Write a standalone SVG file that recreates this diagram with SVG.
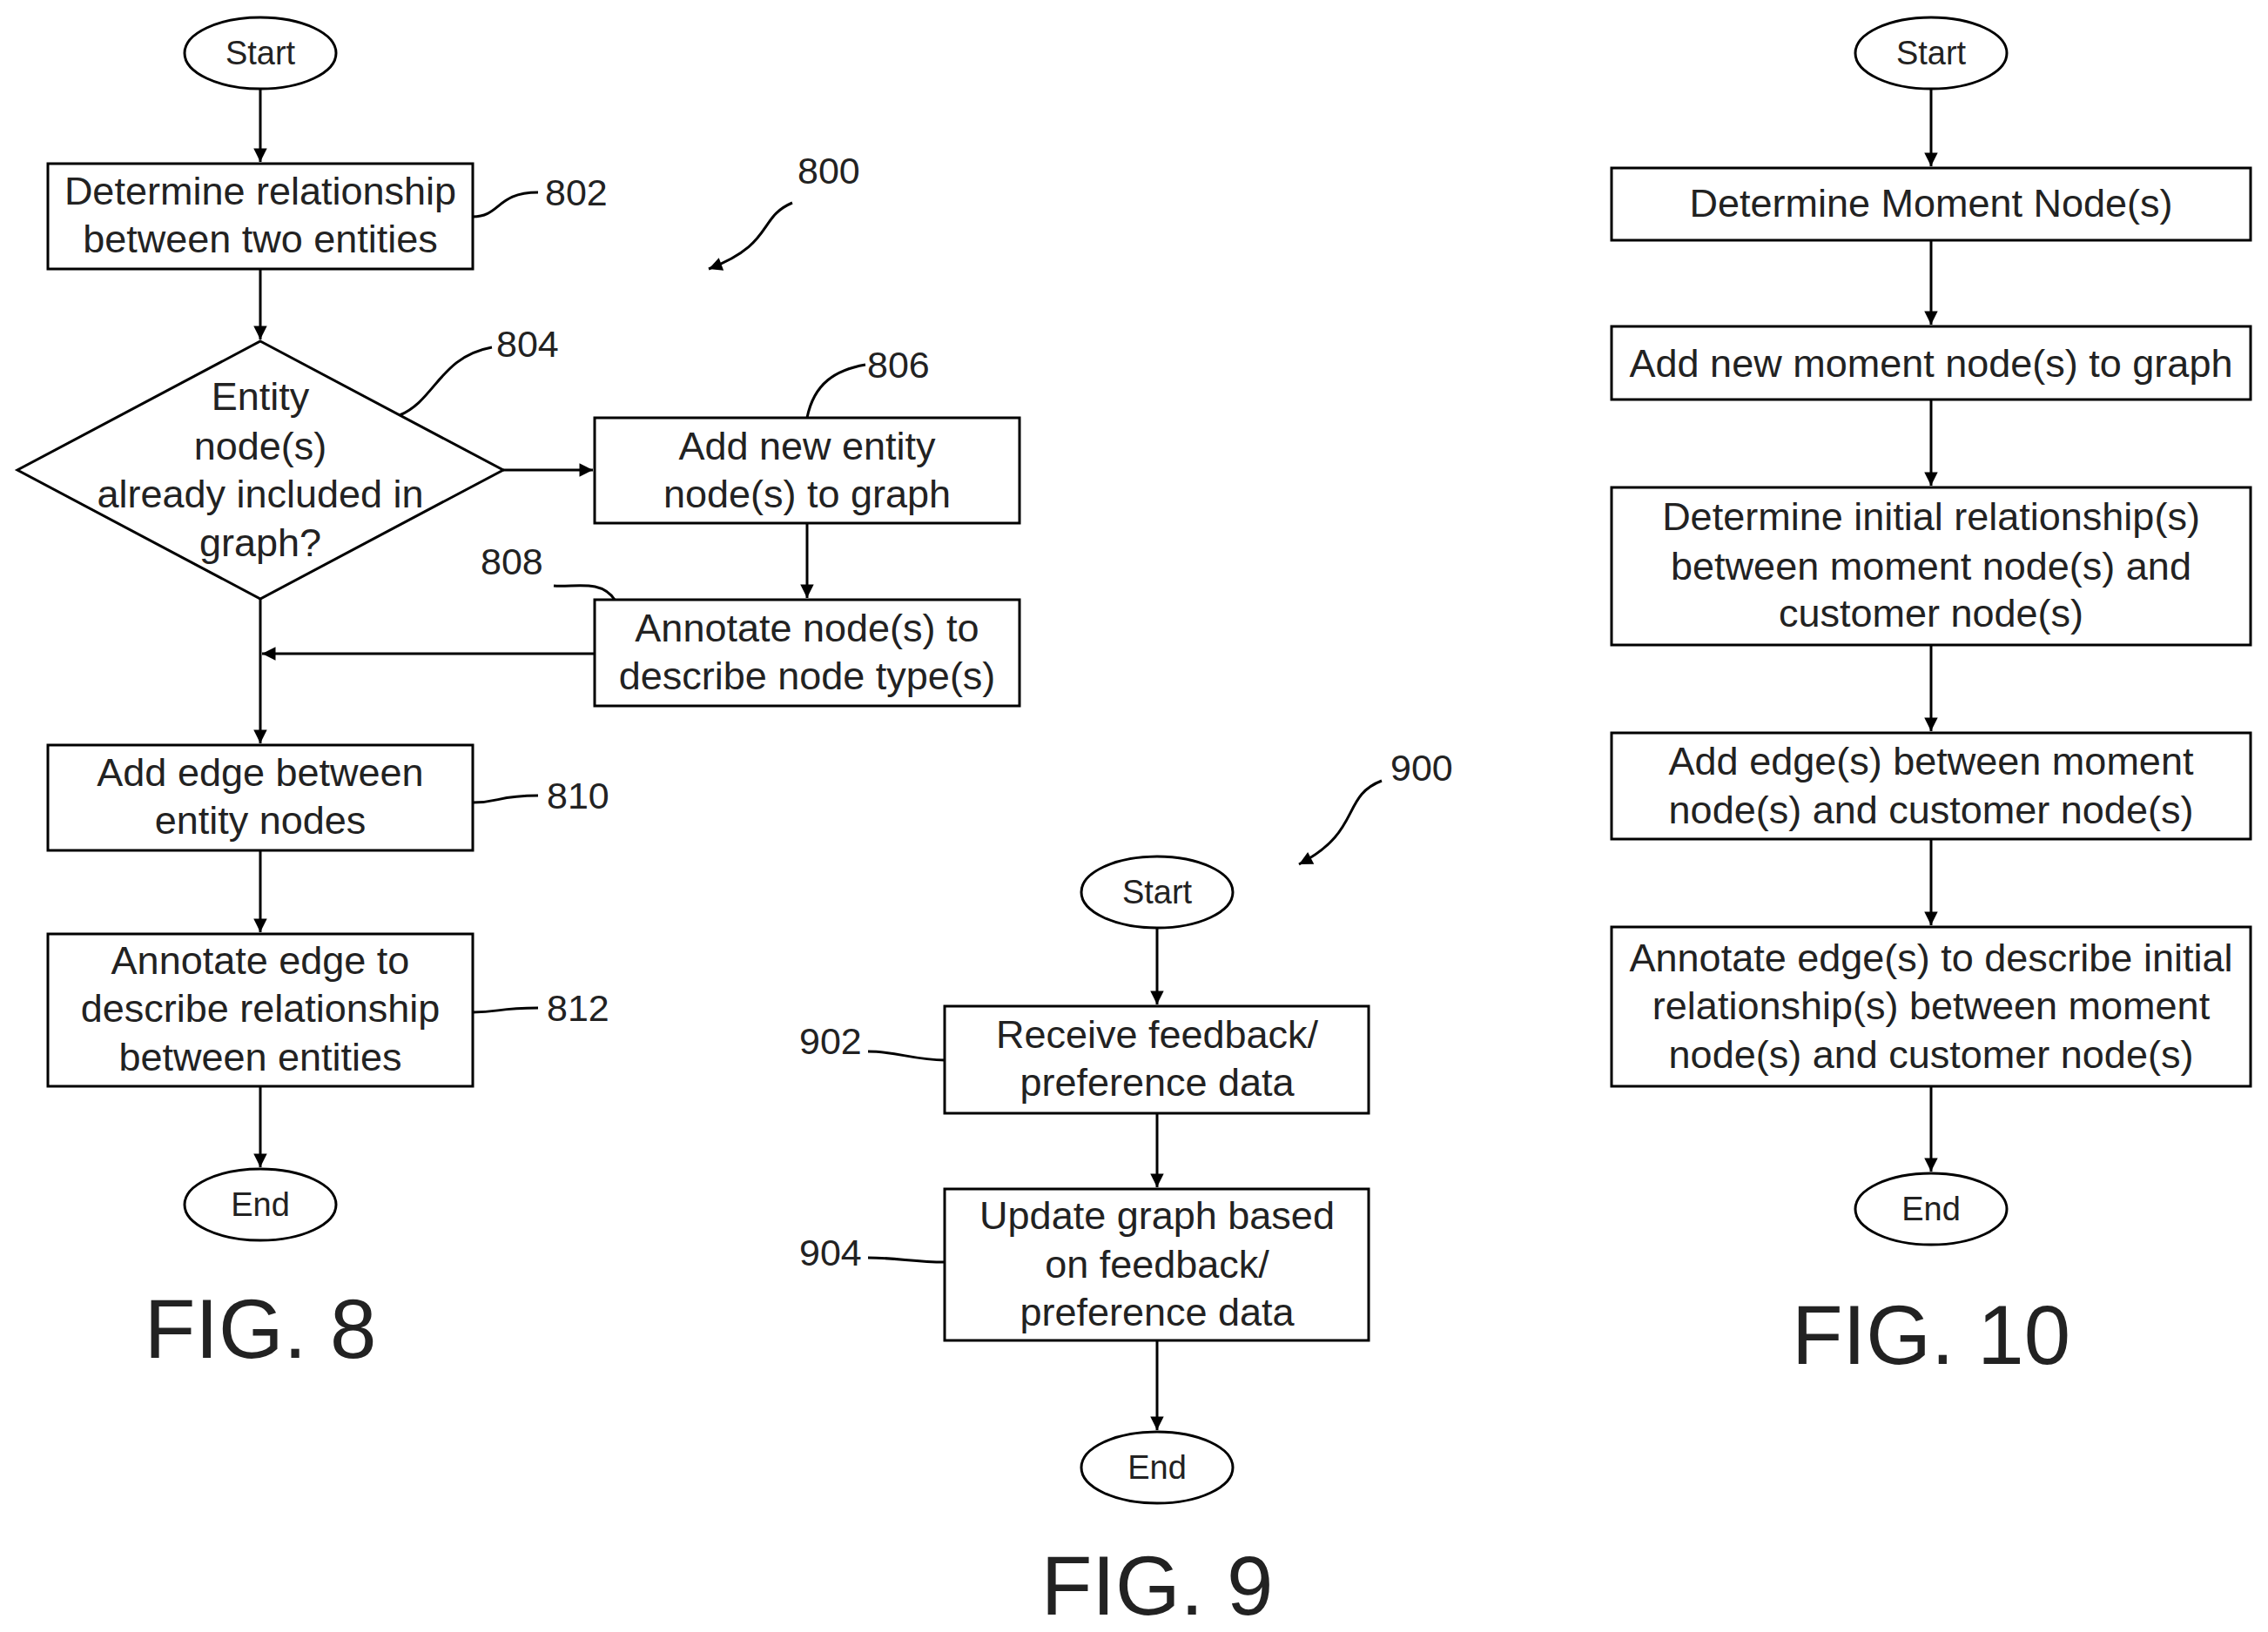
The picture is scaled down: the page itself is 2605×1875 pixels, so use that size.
<svg xmlns="http://www.w3.org/2000/svg" width="2605" height="1875" viewBox="0 0 2605 1875">
<style>
.b{fill:#fff;stroke:#000;stroke-width:3}
.t{font-family:"Liberation Sans",Arial,sans-serif;font-size:45px;text-anchor:middle;dominant-baseline:central;fill:#222}
.s{font-size:38px}
.l{font-family:"Liberation Sans",Arial,sans-serif;font-size:43px;dominant-baseline:central;fill:#222}
.f{font-family:"Liberation Sans",Arial,sans-serif;font-size:96px;text-anchor:middle;fill:#222}
.c{fill:none;stroke:#000;stroke-width:3}
.a{fill:none;stroke:#000;stroke-width:3;marker-end:url(#m)}
</style>
<defs><marker id="m" viewBox="0 0 10 10" refX="10" refY="5" markerWidth="7" markerHeight="7" orient="auto" markerUnits="userSpaceOnUse" style="overflow:visible"><path d="M0,0 L10,5 L0,10 z" transform="scale(2.2) translate(-5.5,-2.7)"/></marker></defs>
<g id="connectors">
<path class="a" d="M299,102 V186"/>
<path class="a" d="M299,309 V390"/>
<path class="a" d="M578,540 H681"/>
<path class="a" d="M927,601 V687"/>
<path class="a" d="M683,751 H301"/>
<path class="a" d="M299,688 V854"/>
<path class="a" d="M299,977 V1071"/>
<path class="a" d="M299,1248 V1341"/>
<path class="a" d="M1329,1066 V1154"/>
<path class="a" d="M1329,1279 V1364"/>
<path class="a" d="M1329,1540 V1643"/>
<path class="a" d="M2218,102 V191"/>
<path class="a" d="M2218,276 V373"/>
<path class="a" d="M2218,459 V558"/>
<path class="a" d="M2218,741 V840"/>
<path class="a" d="M2218,964 V1063"/>
<path class="a" d="M2218,1248 V1346"/>
<path class="a" d="M910,233 C870,250 890,280 814,309"/>
<path class="a" d="M1587,897 C1540,915 1565,955 1492,993"/>
<path class="c" d="M543,249 C575,249 570,221 618,221"/>
<path class="c" d="M459,477 C500,460 505,410 565,399"/>
<path class="c" d="M927,480 C935,440 960,425 994,419"/>
<path class="c" d="M706,689 C690,665 660,675 636,673"/>
<path class="c" d="M543,922 C575,922 570,914 618,914"/>
<path class="c" d="M543,1163 C575,1163 570,1158 618,1158"/>
<path class="c" d="M1085,1218 C1050,1218 1030,1208 997,1208"/>
<path class="c" d="M1085,1450 C1050,1450 1030,1445 997,1445"/>
</g>
<g id="n8start"><ellipse class="b" cx="299" cy="61" rx="87" ry="41"/><text class="t s" x="299" y="61">Start</text></g>
<g id="n802"><rect class="b" x="55" y="188" width="488" height="121"/><text class="t" x="299" y="219">Determine relationship</text><text class="t" x="299" y="274">between two entities</text></g>
<g id="n804"><polygon class="b" points="299,392 578,540 299,688 20,540"/><text class="t" x="299" y="455">Entity</text><text class="t" x="299" y="512">node(s)</text><text class="t" x="299" y="567">already included in</text><text class="t" x="299" y="623">graph?</text></g>
<g id="n806"><rect class="b" x="683" y="480" width="488" height="121"/><text class="t" x="927" y="512">Add new entity</text><text class="t" x="927" y="567">node(s) to graph</text></g>
<g id="n808"><rect class="b" x="683" y="689" width="488" height="122"/><text class="t" x="927" y="721">Annotate node(s) to</text><text class="t" x="927" y="776">describe node type(s)</text></g>
<g id="n810"><rect class="b" x="55" y="856" width="488" height="121"/><text class="t" x="299" y="887">Add edge between</text><text class="t" x="299" y="942">entity nodes</text></g>
<g id="n812"><rect class="b" x="55" y="1073" width="488" height="175"/><text class="t" x="299" y="1103">Annotate edge to</text><text class="t" x="299" y="1158">describe relationship</text><text class="t" x="299" y="1214">between entities</text></g>
<g id="n8end"><ellipse class="b" cx="299" cy="1384" rx="87" ry="41"/><text class="t s" x="299" y="1384">End</text></g>
<g id="n9start"><ellipse class="b" cx="1329" cy="1025" rx="87" ry="41"/><text class="t s" x="1329" y="1025">Start</text></g>
<g id="n902"><rect class="b" x="1085" y="1156" width="487" height="123"/><text class="t" x="1329" y="1188">Receive feedback/</text><text class="t" x="1329" y="1243">preference data</text></g>
<g id="n904"><rect class="b" x="1085" y="1366" width="487" height="174"/><text class="t" x="1329" y="1396">Update graph based</text><text class="t" x="1329" y="1452">on feedback/</text><text class="t" x="1329" y="1507">preference data</text></g>
<g id="n9end"><ellipse class="b" cx="1329" cy="1686" rx="87" ry="41"/><text class="t s" x="1329" y="1686">End</text></g>
<g id="n10start"><ellipse class="b" cx="2218" cy="61" rx="87" ry="41"/><text class="t s" x="2218" y="61">Start</text></g>
<g id="n10a"><rect class="b" x="1851" y="193" width="734" height="83"/><text class="t" x="2218" y="233">Determine Moment Node(s)</text></g>
<g id="n10b"><rect class="b" x="1851" y="375" width="734" height="84"/><text class="t" x="2218" y="417">Add new moment node(s) to graph</text></g>
<g id="n10c"><rect class="b" x="1851" y="560" width="734" height="181"/><text class="t" x="2218" y="593">Determine initial relationship(s)</text><text class="t" x="2218" y="650">between moment node(s) and</text><text class="t" x="2218" y="704">customer node(s)</text></g>
<g id="n10d"><rect class="b" x="1851" y="842" width="734" height="122"/><text class="t" x="2218" y="874">Add edge(s) between moment</text><text class="t" x="2218" y="930">node(s) and customer node(s)</text></g>
<g id="n10e"><rect class="b" x="1851" y="1065" width="734" height="183"/><text class="t" x="2218" y="1100">Annotate edge(s) to describe initial</text><text class="t" x="2218" y="1155">relationship(s) between moment</text><text class="t" x="2218" y="1211">node(s) and customer node(s)</text></g>
<g id="n10end"><ellipse class="b" cx="2218" cy="1389" rx="87" ry="41"/><text class="t s" x="2218" y="1389">End</text></g>
<g id="labels">
<text class="l" x="626" y="221">802</text><text class="l" x="570" y="395">804</text><text class="l" x="996" y="419">806</text><text class="l" x="552" y="645">808</text><text class="l" x="628" y="914">810</text><text class="l" x="628" y="1158">812</text><text class="l" x="916" y="196">800</text>
<text class="l" x="1597" y="882">900</text><text class="l" x="918" y="1196">902</text><text class="l" x="918" y="1439">904</text>
<text class="f" x="299" y="1560">FIG. 8</text><text class="f" x="1329" y="1855">FIG. 9</text><text class="f" x="2218" y="1567">FIG. 10</text>
</g>
</svg>
